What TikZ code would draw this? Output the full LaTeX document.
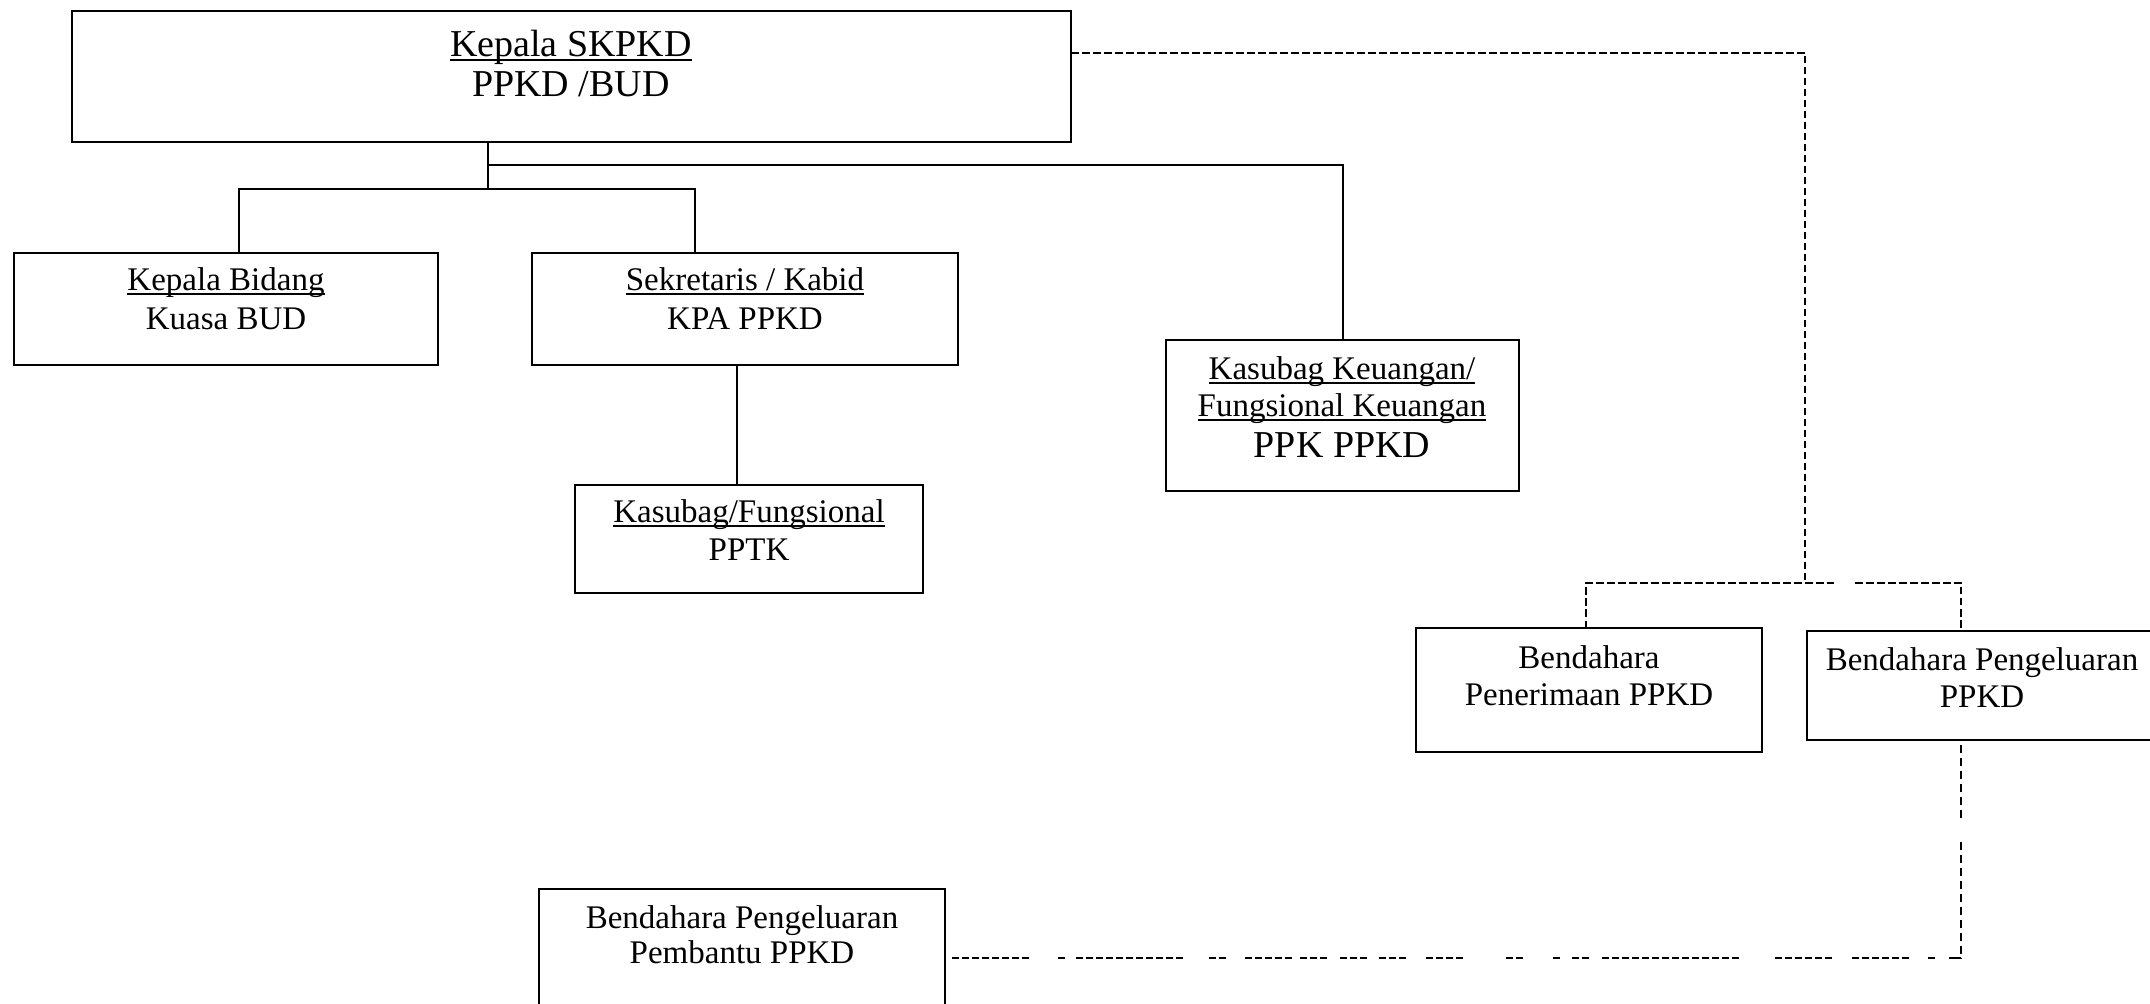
\documentclass[tikz,border=0pt]{standalone}
\usepackage{fontspec}
\setmainfont{Liberation Serif}
\newcommand\myul[1]{\setbox0\hbox{#1}\rlap{\rule[-2.2pt]{\wd0}{1.1pt}}\box0}
\begin{document}
\begin{tikzpicture}[x=0.5pt,y=-0.5pt,
  box/.style={draw, line width=1.2pt, rectangle, inner sep=0pt, outer sep=0pt, anchor=north west},
  txt/.style={anchor=base, inner sep=0pt, font=\fontsize{16.5}{19}\selectfont},
  bigtxt/.style={anchor=base, inner sep=0pt, font=\fontsize{19}{22}\selectfont},
  conn/.style={line width=1pt},
  dconn/.style={line width=1.1pt, dash pattern=on 3.75pt off 1.75pt},
  bconn/.style={line width=1.1pt, dash pattern=
    on 0pt off 3.5pt
    on 3.5pt off 1.5pt on 3.5pt off 1.5pt on 3.5pt off 1.5pt on 3.5pt off 1.5pt on 3.5pt off 1.5pt on 3.5pt off 1.5pt on 3.5pt off 1.5pt on 3.5pt off 14.5pt
    on 3.5pt off 5.5pt
    on 3.5pt off 1.5pt on 3.5pt off 1.5pt on 3.5pt off 1.5pt on 3.5pt off 1.5pt on 3.5pt off 1.5pt on 3.5pt off 1.5pt on 3.5pt off 1.5pt on 3.5pt off 1.5pt on 3.5pt off 1.5pt on 3.5pt off 1.5pt on 3.5pt off 13pt
    on 3.5pt off 1.5pt on 3.5pt off 9.5pt
    on 3.5pt off 1.5pt on 3.5pt off 1.5pt on 3.5pt off 1.5pt on 3.5pt off 1.5pt on 3.5pt off 4pt
    on 3.5pt off 1.5pt on 3.5pt off 1.5pt on 3.5pt off 6.5pt
    on 3.5pt off 1.5pt on 3.5pt off 1.5pt on 3.5pt off 6pt
    on 3.5pt off 1.5pt on 3.5pt off 1.5pt on 3.5pt off 10pt
    on 3.5pt off 1.5pt on 3.5pt off 1.5pt on 3.5pt off 1.5pt on 3.5pt off 21.5pt
    on 3.5pt off 1.5pt on 3.5pt off 15pt
    on 3.5pt off 6pt
    on 3.5pt off 1.5pt on 3.5pt off 6.5pt
    on 3.5pt off 1.5pt on 3.5pt off 1.5pt on 3.5pt off 1.5pt on 3.5pt off 1.5pt on 3.5pt off 1.5pt on 3.5pt off 1.5pt on 3.5pt off 1.5pt on 3.5pt off 1.5pt on 3.5pt off 1.5pt on 3.5pt off 1.5pt on 3.5pt off 1.5pt on 3.5pt off 1.5pt on 3.5pt off 1.5pt on 3.5pt off 18pt
    on 3.5pt off 1.5pt on 3.5pt off 1.5pt on 3.5pt off 1.5pt on 3.5pt off 1.5pt on 3.5pt off 1.5pt on 3.5pt off 10pt
    on 3.5pt off 1.5pt on 3.5pt off 1.5pt on 3.5pt off 1.5pt on 3.5pt off 1.5pt on 3.5pt off 1.5pt on 3.5pt off 9.5pt
    on 3.5pt off 7pt
    on 6pt off 2pt
    on 4pt off 2.5pt on 4pt off 2.5pt on 4pt off 2.5pt on 4pt off 2.5pt on 4pt off 2.5pt on 4pt off 2.5pt on 4pt off 2.5pt on 4pt off 2.5pt on 4pt off 12pt
    on 4pt off 2.5pt on 4pt off 2.5pt on 4pt off 2.5pt on 4pt off 2.5pt on 4pt off 2.5pt on 4pt off 10pt},
]
\useasboundingbox (0,0) rectangle (2150,1004);
\clip (0,0) rectangle (2150,1004);

% boxes
\node[box, minimum width=499.5pt, minimum height=65.5pt] (top) at (72,11) {};
\node[box, minimum width=212pt, minimum height=56pt] (kb) at (14,253) {};
\node[box, minimum width=213pt, minimum height=56pt] (sk) at (532,253) {};
\node[box, minimum width=174pt, minimum height=54pt] (kf) at (575,485) {};
\node[box, minimum width=176.5pt, minimum height=75.5pt] (kk) at (1166,340) {};
\node[box, minimum width=173pt, minimum height=62pt] (bpn) at (1416,628) {};
\node[box, minimum width=175pt, minimum height=54.5pt] (bp) at (1807,631) {};
\node[box, minimum width=203pt, minimum height=65pt] (bpp) at (539,889) {};

% texts
\node[bigtxt] (top1) at (571,57) {\myul{Kepala SKPKD}};
\node[bigtxt] (top2) at (571,97) {PPKD /BUD};
\node[txt] (kb1) at (226,291) {\myul{Kepala Bidang}};
\node[txt] (kb2) at (226,330) {Kuasa BUD};
\node[txt] (sk1) at (745,291) {\myul{Sekretaris / Kabid}};
\node[txt] (sk2) at (745,330) {KPA PPKD};
\node[txt] (kf1) at (749,523) {\myul{Kasubag/Fungsional}};
\node[txt] (kf2) at (749,560) {PPTK};
\node[txt] (kk1) at (1342,380) {\myul{Kasubag Keuangan/}};
\node[txt] (kk2) at (1342,417) {\myul{Fungsional Keuangan}};
\node[bigtxt] (kk3) at (1342,458) {PPK PPKD};
\node[txt] (bpn1) at (1589,668) {Bendahara};
\node[txt] (bpn2) at (1589,705) {Penerimaan PPKD};
\node[txt] (bp1) at (1982,670) {Bendahara Pengeluaran};
\node[txt] (bp2) at (1982,707) {PPKD};
\node[txt] (bpp1) at (742,928) {Bendahara Pengeluaran};
\node[txt] (bpp2) at (742,963) {Pembantu PPKD};

% solid connectors
\coordinate (t1) at (488,165);
\coordinate (t2) at (488,189);
\coordinate (b1) at (239,189);
\coordinate (b2) at (695,189);
\coordinate (s1) at (737,400);
\draw[conn] (top.south -| t1) -- (t1) -| (kk.north);
\draw[conn] (t1) -- (t2);
\draw[conn] (b1 |- kb.north) -- (b1) -- (b2) -- (b2 |- sk.north);
\draw[conn] (s1 |- sk.south) -- (s1 |- kf.north);

% dashed connectors
\coordinate (d1) at (1805,53);
\coordinate (d2) at (1805,583);
\coordinate (L) at (1586,583);
\coordinate (g1) at (1834,583);
\coordinate (g2) at (1855,583);
\coordinate (R) at (1961,583);
\coordinate (c1) at (1961,958);
\draw[dconn] (top.east |- d1) -- (d1) -- (d2);
\draw[dconn] (L |- bpn.north) -- (L) -- (g1);
\draw[dconn] (g2) -- (R) -- (R |- bp.north);
\draw[bconn] (bpp.east |- c1) -- (c1) -- (c1 |- bp.south);
\end{tikzpicture}
\end{document}
